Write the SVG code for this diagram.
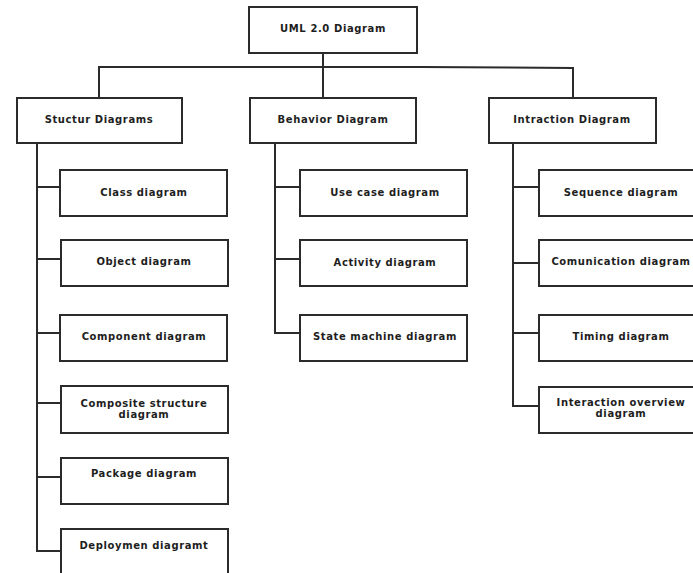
<svg xmlns="http://www.w3.org/2000/svg" width="693" height="573" viewBox="0 0 693 573">
  <style>
    .box { fill: #ffffff; stroke: #2b2b2b; stroke-width: 2; }
    .wire { fill: none; stroke: #2b2b2b; stroke-width: 2; }
    text { font-family: "DejaVu Sans", "Liberation Sans", sans-serif; font-weight: bold; font-size: 10px; letter-spacing: 0.6px; fill: #1e1e1e; text-anchor: middle; }
  </style>
  <rect width="693" height="573" fill="#ffffff"/>

  <!-- connectors -->
  <g id="connectors" class="wire">
    <path d="M323,53 V67"/>
    <path d="M99,98 V67 H420 L573,68 V98"/>
    <path d="M323,67 V98"/>
    <!-- structure branch -->
    <path d="M37,143 V551 H60"/>
    <path d="M37,187 H60 M37,259 H60 M37,333 H60 M37,403 H60 M37,477 H60"/>
    <!-- behavior branch -->
    <path d="M275,143 V333 H300"/>
    <path d="M275,187 H300 M275,259 H300"/>
    <!-- interaction branch -->
    <path d="M513,143 V406 H539"/>
    <path d="M513,187 H539 M513,263 H539 M513,333 H539"/>
  </g>

  <g id="uml">
    <rect class="box" x="249" y="7" width="168" height="46"/>
    <text x="333" y="32">UML 2.0 Diagram</text>
  </g>

  <g id="structure">
    <rect class="box" x="17" y="98" width="165" height="45"/>
    <text x="99" y="123">Stuctur Diagrams</text>
  </g>
  <g id="behavior">
    <rect class="box" x="250" y="98" width="166" height="45"/>
    <text x="333" y="123">Behavior Diagram</text>
  </g>
  <g id="interaction">
    <rect class="box" x="489" y="98" width="167" height="45"/>
    <text x="572" y="123">Intraction Diagram</text>
  </g>

  <!-- structure diagrams -->
  <g id="class">
    <rect class="box" x="60" y="170" width="167" height="46"/>
    <text x="144" y="196">Class diagram</text>
  </g>
  <g id="object">
    <rect class="box" x="61" y="240" width="167" height="46"/>
    <text x="144" y="265">Object diagram</text>
  </g>
  <g id="component">
    <rect class="box" x="60" y="315" width="167" height="46"/>
    <text x="144" y="340">Component diagram</text>
  </g>
  <g id="composite">
    <rect class="box" x="61" y="386" width="167" height="47"/>
    <text x="144" y="407">Composite structure</text>
    <text x="144" y="418">diagram</text>
  </g>
  <g id="package">
    <rect class="box" x="61" y="458" width="167" height="46"/>
    <text x="144" y="477">Package diagram</text>
  </g>
  <g id="deployment">
    <rect class="box" x="61" y="529" width="167" height="46"/>
    <text x="144" y="549">Deploymen diagramt</text>
  </g>

  <!-- behavior diagrams -->
  <g id="usecase">
    <rect class="box" x="300" y="170" width="167" height="46"/>
    <text x="385" y="196">Use case diagram</text>
  </g>
  <g id="activity">
    <rect class="box" x="300" y="240" width="167" height="46"/>
    <text x="385" y="266">Activity diagram</text>
  </g>
  <g id="statemachine">
    <rect class="box" x="300" y="315" width="167" height="46"/>
    <text x="385" y="340">State machine diagram</text>
  </g>

  <!-- interaction diagrams -->
  <g id="sequence">
    <rect class="box" x="539" y="170" width="165" height="46"/>
    <text x="621" y="196">Sequence diagram</text>
  </g>
  <g id="communication">
    <rect class="box" x="539" y="240" width="165" height="46"/>
    <text x="621" y="265">Comunication diagram</text>
  </g>
  <g id="timing">
    <rect class="box" x="539" y="315" width="165" height="46"/>
    <text x="621" y="340">Timing diagram</text>
  </g>
  <g id="overview">
    <rect class="box" x="539" y="387" width="165" height="46"/>
    <text x="621" y="406">Interaction overview</text>
    <text x="621" y="417">diagram</text>
  </g>
</svg>
